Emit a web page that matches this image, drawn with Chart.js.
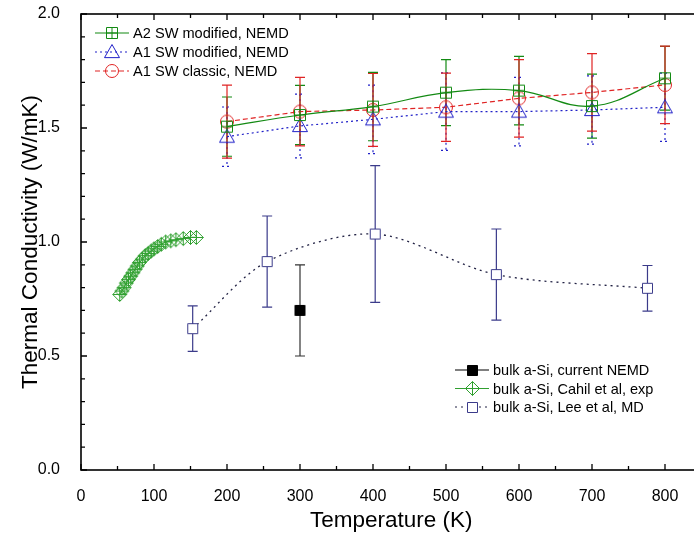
<!DOCTYPE html>
<html>
<head>
<meta charset="utf-8">
<script src="https://cdn.jsdelivr.net/npm/chart.js@4.4.1/dist/chart.umd.min.js"></script>
<style>
  html, body { margin: 0; padding: 0; background: #fff; overflow: hidden; }
  #wrap { width: 694px; height: 538px; overflow: hidden; }
</style>
</head>
<body>
<div id="wrap"><canvas id="chart" width="710" height="538"></canvas></div>
<script>
// SW potentials, NEMD (temperature in K, conductivity in W/mK)
const swTemps = [200, 300, 400, 500, 600, 700, 800];
const a2Modified = [1.506, 1.557, 1.594, 1.655, 1.664, 1.596, 1.718];
const a2ModifiedErr = [0.13, 0.13, 0.15, 0.145, 0.15, 0.14, 0.14];
const a1Modified = [1.462, 1.509, 1.538, 1.572, 1.572, 1.579, 1.591];
const a1ModifiedErr = [0.13, 0.14, 0.15, 0.17, 0.15, 0.15, 0.15];
const a1Classic = [1.528, 1.572, 1.579, 1.591, 1.630, 1.656, 1.689];
const a1ClassicErr = [0.16, 0.15, 0.16, 0.15, 0.17, 0.17, 0.17];

// bulk a-Si
const currentTemps = [300];
const currentValues = [0.70];
const currentErr = [0.20];

const cahilTemps = [53, 56, 59, 62, 65, 68, 71, 74, 77, 80, 84, 88, 92, 96, 100, 105, 110, 116, 123, 130, 140, 150, 158];
const cahilValues = [0.77, 0.785, 0.80, 0.82, 0.835, 0.85, 0.865, 0.88, 0.895, 0.91, 0.925, 0.94, 0.95, 0.96, 0.97, 0.98, 0.99, 1.0, 1.005, 1.01, 1.015, 1.02, 1.02];

const leeTemps = [153, 255, 403, 569, 776];
const leeValues = [0.62, 0.914, 1.035, 0.857, 0.797];
const leeErr = [0.10, 0.20, 0.30, 0.20, 0.10];

const xTickValues = [0, 100, 200, 300, 400, 500, 600, 700, 800];

const FONT = "Arial, 'Liberation Sans', sans-serif";
const GREEN = '#138a13';
const BLUE = '#2020c8';
const RED = '#e02424';
const NAVY = '#3b3b8a';
const LIGHTGREEN = '#30a030';

function pts(xs, ys) {
  return xs.map((x, i) => ({ x: x, y: ys[i] }));
}

// marker images
function marker(shape, color, size, fill, plus) {
  const s = size + 3;
  const c = document.createElement('canvas');
  c.width = s; c.height = s;
  const g = c.getContext('2d');
  const m = s / 2, r = size / 2;
  g.strokeStyle = color;
  g.lineWidth = 1;
  g.beginPath();
  if (shape === 'square') {
    g.rect(m - r, m - r, size, size);
  } else if (shape === 'diamond') {
    g.moveTo(m, m - r); g.lineTo(m + r, m); g.lineTo(m, m + r); g.lineTo(m - r, m); g.closePath();
  } else if (shape === 'triangle') {
    g.moveTo(m, m - r); g.lineTo(m + r, m + r * 0.75); g.lineTo(m - r, m + r * 0.75); g.closePath();
  } else {
    g.arc(m, m, r, 0, Math.PI * 2);
  }
  if (fill) { g.fillStyle = fill; g.fill(); }
  g.stroke();
  if (plus) {
    g.beginPath();
    g.moveTo(m, m - r); g.lineTo(m, m + r);
    g.moveTo(m - r, m); g.lineTo(m + r, m);
    g.stroke();
  }
  return c;
}

const mkA2 = marker('square', GREEN, 11, null, true);
const mkA1m = marker('triangle', BLUE, 15, null, false);
const mkA1c = marker('circle', RED, 13, null, false);
const mkCurrent = marker('square', '#000', 10, '#000', false);
const mkCahil = marker('diamond', LIGHTGREEN, 14, null, true);
const mkLee = marker('square', NAVY, 10, '#fff', false);

const errorBars = {
  id: 'errorBars',
  beforeDatasetsDraw(chart) {
    const ctx = chart.ctx;
    const xs = chart.scales.x, ys = chart.scales.y;
    chart.data.datasets.forEach(ds => {
      if (!ds.errors) return;
      ctx.save();
      ctx.strokeStyle = ds.errorColor;
      ctx.lineWidth = 1.2;
      ctx.setLineDash(ds.errorDash || []);
      ds.data.forEach((p, j) => {
        const px = xs.getPixelForValue(p.x);
        const top = ys.getPixelForValue(p.y + ds.errors[j]);
        const bot = ys.getPixelForValue(p.y - ds.errors[j]);
        ctx.beginPath();
        ctx.moveTo(px, top); ctx.lineTo(px, bot);
        ctx.moveTo(px - 5, top); ctx.lineTo(px + 5, top);
        ctx.moveTo(px - 5, bot); ctx.lineTo(px + 5, bot);
        ctx.stroke();
      });
      ctx.restore();
    });
  }
};

// box with inward ticks on all four sides
const frame = {
  id: 'frame',
  afterDatasetsDraw(chart) {
    const ctx = chart.ctx;
    const a = chart.chartArea;
    const xs = chart.scales.x, ys = chart.scales.y;
    ctx.save();
    ctx.strokeStyle = '#000';
    ctx.lineWidth = 1.6;
    ctx.strokeRect(a.left, a.top, a.right - a.left, a.bottom - a.top);
    ctx.lineWidth = 1.3;
    ctx.beginPath();
    for (let v = 0; v <= 850; v += 50) {
      const px = xs.getPixelForValue(v);
      const len = v % 100 === 0 ? 6 : 4;
      ctx.moveTo(px, a.bottom); ctx.lineTo(px, a.bottom - len);
      ctx.moveTo(px, a.top); ctx.lineTo(px, a.top + len);
    }
    for (let k = 0; k <= 20; k++) {
      const py = ys.getPixelForValue(k / 10);
      const len = k % 5 === 0 ? 6 : 4;
      ctx.moveTo(a.left, py); ctx.lineTo(a.left + len, py);
      ctx.moveTo(a.right, py); ctx.lineTo(a.right - len, py);
    }
    ctx.stroke();
    ctx.restore();
  }
};

const legendTop = ['A2 SW modified, NEMD', 'A1 SW modified, NEMD', 'A1 SW classic, NEMD'];
const legendBottom = ['bulk a-Si, current NEMD', 'bulk a-Si, Cahil et al, exp', 'bulk a-Si, Lee et al, MD'];

function drawLegend(ctx, datasets, labels, x0, y0, dy, fontSize) {
  ctx.save();
  ctx.font = fontSize + 'px ' + FONT;
  ctx.textBaseline = 'middle';
  ctx.fillStyle = '#000';
  datasets.forEach((ds, i) => {
    const y = y0 + i * dy;
    ctx.strokeStyle = ds.borderColor;
    ctx.lineWidth = 1.2;
    ctx.setLineDash(ds.borderDash || []);
    ctx.beginPath();
    ctx.moveTo(x0, y); ctx.lineTo(x0 + 34, y);
    ctx.stroke();
    ctx.setLineDash([]);
    const img = ds.pointStyle;
    ctx.drawImage(img, Math.round(x0 + 17 - img.width / 2), Math.round(y - img.height / 2));
    ctx.fillText(labels[i], x0 + 38, y + 1);
  });
  ctx.restore();
}

const legends = {
  id: 'legends',
  afterDraw(chart) {
    const ds = chart.data.datasets;
    drawLegend(chart.ctx, [ds[0], ds[1], ds[2]], legendTop, 95, 33, 19, 14.6);
    drawLegend(chart.ctx, [ds[3], ds[4], ds[5]], legendBottom, 455, 370, 18.5, 14.5);
  }
};

new Chart(document.getElementById('chart'), {
  type: 'scatter',
  data: {
    datasets: [
      {
        data: pts(swTemps, a2Modified), errors: a2ModifiedErr, errorColor: GREEN,
        showLine: true, tension: 0.4, borderColor: GREEN, borderWidth: 1.2,
        pointStyle: mkA2, pointRadius: 6
      },
      {
        data: pts(swTemps, a1Modified), errors: a1ModifiedErr, errorColor: BLUE, errorDash: [2, 3],
        showLine: true, borderColor: BLUE, borderWidth: 1.2, borderDash: [2, 3],
        pointStyle: mkA1m, pointRadius: 7
      },
      {
        data: pts(swTemps, a1Classic), errors: a1ClassicErr, errorColor: RED,
        showLine: true, borderColor: RED, borderWidth: 1.2, borderDash: [5, 3],
        pointStyle: mkA1c, pointRadius: 7
      },
      {
        data: pts(currentTemps, currentValues), errors: currentErr, errorColor: '#333',
        showLine: false, borderColor: '#000', borderWidth: 1.2,
        pointStyle: mkCurrent, pointRadius: 5
      },
      {
        data: pts(cahilTemps, cahilValues),
        showLine: true, borderColor: LIGHTGREEN, borderWidth: 1.2,
        pointStyle: mkCahil, pointRadius: 6
      },
      {
        data: pts(leeTemps, leeValues), errors: leeErr, errorColor: NAVY,
        showLine: true, tension: 0.3, borderColor: '#222244', borderWidth: 1.3, borderDash: [2, 4],
        pointStyle: mkLee, pointRadius: 5
      }
    ]
  },
  options: {
    responsive: false,
    animation: false,
    devicePixelRatio: 1,
    layout: { padding: { left: 0, top: 14, right: 8.5, bottom: 0 } },
    plugins: { legend: { display: false }, tooltip: { enabled: false } },
    scales: {
      x: {
        type: 'linear', min: 0, max: 850,
        grid: { display: false }, border: { display: false },
        afterBuildTicks: s => { s.ticks = xTickValues.map(v => ({ value: v })); },
        afterFit: s => { s.height = 68; s.paddingLeft = 0; s.paddingRight = 0; },
        ticks: { autoSkip: false, padding: 9, color: '#000', font: { family: FONT, size: 16 }, maxRotation: 0 },
        title: { display: true, text: 'Temperature (K)', color: '#000', font: { family: FONT, size: 22.5 }, padding: { top: 0, bottom: 3.5 } }
      },
      y: {
        type: 'linear', min: 0, max: 2,
        grid: { display: false }, border: { display: false },
        afterFit: s => { s.width = 81; s.paddingTop = 0; s.paddingBottom = 0; },
        ticks: { stepSize: 0.5, padding: 13, color: '#000', font: { family: FONT, size: 16 }, callback: v => v.toFixed(1) },
        title: { display: true, text: 'Thermal Conductivity (W/mK)', color: '#000', font: { family: FONT, size: 22.5 }, padding: { top: 17, bottom: 0 } }
      }
    }
  },
  plugins: [errorBars, frame, legends]
});
</script>
</body>
</html>
